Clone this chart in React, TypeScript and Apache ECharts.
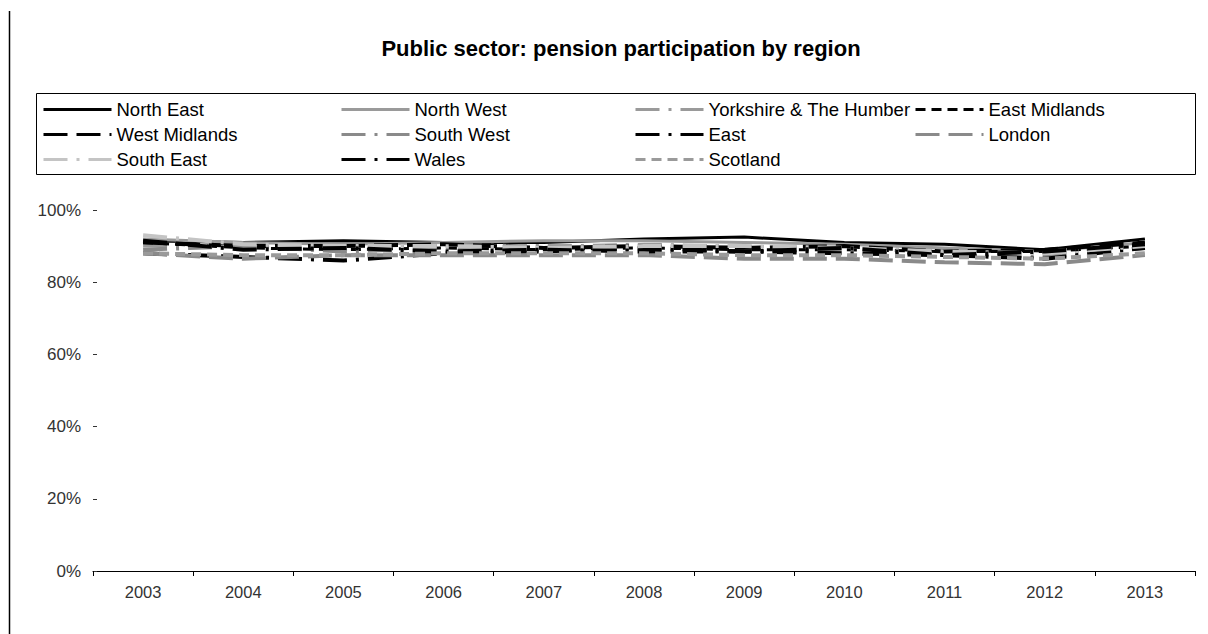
import React, { useEffect, useRef } from "react";
import * as echarts from "echarts";

const years = ["2003", "2004", "2005", "2006", "2007", "2008", "2009", "2010", "2011", "2012", "2013"];

const northEast = [91.5, 91, 91.5, 91, 91, 92, 92.5, 91, 90.5, 89, 92];
const northWest = [92, 91, 90.5, 91, 91.5, 91.5, 91, 90.5, 89.5, 88.5, 91];
const yorkshire = [90, 90, 89, 90.5, 90, 90.5, 90, 89.5, 89, 88, 90];
const eastMidlands = [91, 89.5, 89, 89.5, 89, 89.5, 89, 89, 88.5, 88.5, 90];
const westMidlands = [91, 90, 90, 90.5, 89.5, 90, 89.5, 90, 88.5, 89, 91];
const southWest = [89, 90, 88.5, 89.5, 90, 89, 88.5, 88.5, 88, 87, 89.5];
const east = [88, 87, 86, 88, 88.5, 89.5, 88.5, 88, 87.5, 86.5, 89.5];
const london = [88, 86.5, 87.5, 87.5, 87.5, 87.5, 86.5, 86.5, 85.5, 85, 87.5];
const southEast = [93, 90.5, 90, 90, 89.5, 90, 90, 89.5, 88.5, 88, 90];
const wales = [91.5, 89, 89.5, 88.5, 89, 88.5, 88.5, 89.5, 87.5, 88.5, 90.5];
const scotland = [88, 87.5, 87.5, 88, 88, 88, 87.5, 87.5, 87, 86.5, 88];

const yTicks = [0, 20, 40, 60, 80, 100];

const FONT = "'Liberation Sans', Arial, sans-serif";

const LONG_DASH_DOT = [24, 9, 3, 9];
const LONG_DASH = [24, 9];
const DASH = [10, 6];

type S = { name: string; data: number[]; color: string; dash: number[] | "solid"; width: number };

const seriesDefs: S[] = [
  { name: "North East", data: northEast, color: "#000000", dash: "solid", width: 3 },
  { name: "North West", data: northWest, color: "#9a9a9a", dash: "solid", width: 3 },
  { name: "Yorkshire & The Humber", data: yorkshire, color: "#9a9a9a", dash: LONG_DASH_DOT, width: 3 },
  { name: "East Midlands", data: eastMidlands, color: "#000000", dash: DASH, width: 3 },
  { name: "West Midlands", data: westMidlands, color: "#000000", dash: LONG_DASH, width: 4 },
  { name: "South West", data: southWest, color: "#8a8a8a", dash: LONG_DASH_DOT, width: 4 },
  { name: "East", data: east, color: "#000000", dash: LONG_DASH_DOT, width: 4 },
  { name: "London", data: london, color: "#8a8a8a", dash: LONG_DASH, width: 4 },
  { name: "South East", data: southEast, color: "#c4c4c4", dash: LONG_DASH_DOT, width: 4 },
  { name: "Wales", data: wales, color: "#000000", dash: LONG_DASH_DOT, width: 4 },
  { name: "Scotland", data: scotland, color: "#9a9a9a", dash: DASH, width: 4 },
];

const legendCols = [
  { left: 42, names: ["North East", "West Midlands", "South East"] },
  { left: 340, names: ["North West", "South West", "Wales"] },
  { left: 634, names: ["Yorkshire & The Humber", "East", "Scotland"] },
  { left: 914, names: ["East Midlands", "London"] },
];

export default function App() {
  const ref = useRef<HTMLDivElement>(null);
  useEffect(() => {
    if (!ref.current) return;
    const chart = echarts.init(ref.current, undefined, { renderer: "svg" });
    chart.setOption({
      animation: false,
      backgroundColor: "#ffffff",
      title: {
        text: "Public sector: pension participation by region",
        left: 616,
        top: 32,
        textAlign: "center",
        textStyle: { fontFamily: FONT, fontSize: 22, fontWeight: "bold", color: "#000" },
      },
      legend: legendCols.map((c) => ({
        left: c.left,
        top: 100,
        padding: 0,
        orient: "vertical",
        itemWidth: 68,
        itemHeight: 16,
        itemGap: 6,
        selectedMode: false,
        itemStyle: { opacity: 0, borderWidth: 0 },
        lineStyle: { width: 3 },
        data: c.names,
        textStyle: { fontFamily: FONT, fontSize: 18.5, color: "#000", lineHeight: 16 },
      })),
      grid: { left: 93, right: 13, top: 210, bottom: 63 },
      xAxis: {
        type: "category",
        data: years,
        boundaryGap: true,
        axisLine: { show: true, lineStyle: { color: "#000", width: 1 } },
        axisTick: { show: true, length: 5, lineStyle: { color: "#000" } },
        axisLabel: { fontFamily: FONT, fontSize: 16.5, color: "#333", margin: 12 },
      },
      yAxis: {
        type: "value",
        min: yTicks[0],
        max: yTicks[yTicks.length - 1],
        interval: 20,
        splitLine: { show: false },
        axisLine: { show: false },
        axisTick: { show: true, inside: true, length: 4, lineStyle: { color: "#333" } },
        axisLabel: { fontFamily: FONT, fontSize: 17, color: "#333", margin: 12, formatter: "{value}%" },
      },
      graphic: [
        { type: "line", shape: { x1: 9.5, y1: 11, x2: 9.5, y2: 634 }, style: { stroke: "#000", lineWidth: 1.5 } },
        { type: "rect", shape: { x: 36.5, y: 93.5, width: 1159, height: 81 }, style: { fill: "none", stroke: "#000", lineWidth: 1 } },
      ],
      series: seriesDefs.map((s) => ({
        name: s.name,
        type: "line",
        data: s.data,
        symbol: "none",
        itemStyle: { color: s.color },
        lineStyle: { color: s.color, width: s.width, type: s.dash, cap: "butt" },
      })),
    });
    return () => chart.dispose();
  }, []);
  return (
    <div
      ref={ref}
      style={{ position: "fixed", left: 0, top: 0, width: 1208, height: 634, background: "#fff" }}
    />
  );
}
